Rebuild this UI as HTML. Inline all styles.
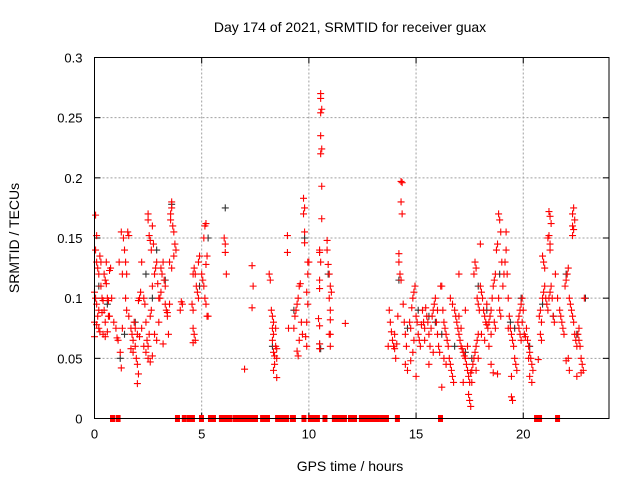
<!DOCTYPE html>
<html><head><meta charset="utf-8"><style>
body{margin:0;background:#fff;}
svg{display:block;font-family:"Liberation Sans",sans-serif;}
</style></head><body>
<svg id="chart" width="640" height="480" viewBox="0 0 640 480">
<rect width="640" height="480" fill="#fff"/>
<text x="350" y="32" font-size="14" text-anchor="middle" fill="#000">Day 174 of 2021, SRMTID for receiver guax</text>
<text x="0" y="0" font-size="14" text-anchor="middle" transform="translate(19,238) rotate(-90)">SRMTID / TECUs</text>
<text x="350" y="471" font-size="14" text-anchor="middle">GPS time / hours</text>
<g id="grid"></g>
<g id="ticks"></g>
<g id="blackpts"></g>
<g id="redpts"></g>
<rect x="94.5" y="57.5" width="514.5" height="361" fill="none" stroke="#000" stroke-width="1"/>
</svg>
<script>
const xTicks=[0,5,10,15,20];
const yTicks=[0,0.05,0.1,0.15,0.2,0.25,0.3];
const yTickLabels=["0","0.05","0.1","0.15","0.2","0.25","0.3"];
const redHours=[0.05,0.1,0.05,0.1,0.15,0.0,0.05,0.1,0.2,0.0,0.1,0.2,0.3,0.35,0.4,0.45,0.5,0.55,0.6,0.65,0.7,0.75,0.3,0.25,0.2,0.4,0.5,0.6,0.15,0.35,0.45,0.55,0.7,0.8,0.0,0.25,0.5,0.65,
0.9,1.0,1.05,1.1,1.2,1.25,1.3,1.35,1.4,1.45,1.5,1.55,1.6,1.5,1.45,1.6,1.7,1.75,1.8,1.85,1.9,1.95,2.0,2.05,2.0,1.7,1.8,1.9,2.0,2.1,2.2,1.25,1.15,1.3,
2.05,2.1,2.15,2.2,2.3,2.35,2.4,2.45,2.5,2.55,2.6,2.65,2.7,2.5,2.5,2.55,2.6,2.65,2.7,2.75,2.8,2.85,2.9,2.95,2.5,2.6,2.7,2.4,2.3,2.8,2.9,3.0,
3.05,3.1,3.1,3.15,3.2,3.25,3.3,3.35,3.4,3.45,3.5,3.55,3.55,3.6,3.6,3.65,3.7,3.75,3.7,3.6,3.5,3.8,3.2,3.0,3.3,3.4,
4.05,4.1,4.0,4.6,4.65,4.7,4.75,4.8,4.85,4.9,4.85,4.6,4.65,4.7,4.6,4.55,4.6,
5.0,5.05,5.1,5.15,5.2,5.25,5.3,5.15,5.2,5.1,5.2,5.25,
6.05,6.1,6.1,6.15,7.0,7.35,7.4,7.35,
8.15,8.2,8.25,8.3,8.35,8.3,8.35,8.3,8.35,8.4,8.45,8.5,8.4,8.35,8.5,8.45,8.5,
9.05,9.0,9.0,9.3,9.35,9.4,9.45,9.5,9.55,9.6,9.65,9.7,9.55,9.45,9.5,9.75,9.8,9.75,9.8,9.8,9.95,10.0,9.95,9.9,9.95,9.9,9.85,9.9,
10.55,10.55,10.6,10.55,10.55,10.6,10.55,10.6,10.6,10.5,10.5,10.55,10.5,10.5,10.45,10.5,10.5,10.5,10.85,10.85,10.9,10.95,11.0,10.95,11.0,11.0,10.95,11.0,11.05,11.0,
11.7,
13.7,13.75,13.8,13.85,13.9,13.95,14.0,14.05,14.0,14.1,14.15,14.2,14.2,14.25,14.3,14.3,14.35,14.3,14.35,14.4,14.45,14.5,14.55,14.5,14.6,14.7,14.75,14.8,14.85,14.9,14.95,15.0,15.05,15.1,15.15,15.2,15.25,15.3,15.35,15.4,14.9,14.85,14.75,15.0,
15.5,15.55,15.6,15.65,15.7,15.75,15.8,15.85,15.9,15.95,16.0,16.05,16.1,16.15,16.2,16.25,16.3,16.35,16.4,16.45,16.5,16.55,16.6,16.65,16.7,16.75,16.6,16.7,16.8,16.85,16.9,16.95,15.6,15.8,16.0,15.4,15.45,16.3,16.4,16.2,
17.0,17.05,17.1,17.15,17.2,17.25,17.3,17.35,17.4,17.45,17.5,17.45,17.5,17.55,17.6,17.65,17.7,17.75,17.8,17.85,17.9,17.7,17.75,17.8,17.85,17.9,17.95,17.2,17.3,17.0,17.1,17.55,17.6,17.4,17.8,17.9,17.0,
18.0,18.05,18.1,18.15,18.2,18.25,18.3,18.35,18.4,18.45,18.5,18.55,18.6,18.65,18.7,18.75,18.8,18.85,18.9,18.95,19.0,18.85,18.9,18.95,18.0,18.05,18.2,18.4,18.5,18.6,18.8,18.3,18.7,18.5,18.65,
19.05,19.1,19.15,19.2,19.2,19.25,19.3,19.35,19.4,19.45,19.5,19.55,19.6,19.65,19.7,19.45,19.45,19.5,19.75,19.8,19.85,19.9,19.95,19.8,19.85,19.9,19.95,20.0,20.05,20.1,20.15,20.2,20.25,20.3,20.35,20.4,20.45,20.3,20.4,20.25,19.3,
20.75,20.8,20.85,20.9,20.95,21.0,21.05,21.1,21.15,21.2,21.25,21.3,21.15,21.2,21.25,21.25,20.9,20.95,21.0,20.8,20.85,20.7,21.4,21.45,21.5,21.35,
21.6,21.7,21.75,21.8,21.85,21.9,21.95,22.0,22.05,22.1,22.15,22.2,22.25,22.3,22.35,22.4,22.45,22.5,22.55,22.6,22.65,22.7,22.75,22.8,22.85,22.1,22.0,22.15,22.3,22.35,22.3,22.35,22.4,22.3,22.7,22.6,22.5,
21.2,21.25,21.3];
const redTecu=[0.169,0.152,0.14,0.13,0.125,0.105,0.1,0.095,0.09,0.08,0.078,0.075,0.11,0.1,0.098,0.09,0.115,0.112,0.1,0.098,0.085,0.125,0.13,0.135,0.12,0.07,0.08,0.072,0.085,0.088,0.12,0.13,0.123,0.1,0.068,0.072,0.068,0.085,
0.08,0.075,0.067,0.065,0.055,0.042,0.075,0.15,0.14,0.13,0.12,0.155,0.152,0.09,0.1,0.085,0.075,0.07,0.065,0.08,0.06,0.05,0.045,0.037,0.029,0.058,0.055,0.075,0.07,0.068,0.075,0.155,0.13,0.12,
0.098,0.1,0.105,0.13,0.1,0.095,0.08,0.065,0.06,0.07,0.085,0.09,0.11,0.17,0.165,0.152,0.148,0.14,0.16,0.145,0.12,0.125,0.13,0.112,0.05,0.047,0.052,0.055,0.06,0.07,0.065,0.1,
0.1,0.105,0.125,0.12,0.13,0.115,0.11,0.09,0.085,0.07,0.095,0.165,0.17,0.18,0.175,0.16,0.155,0.145,0.135,0.125,0.13,0.14,0.062,0.08,0.095,0.088,
0.097,0.095,0.09,0.12,0.125,0.12,0.11,0.105,0.1,0.135,0.13,0.075,0.07,0.065,0.063,0.095,0.09,
0.12,0.115,0.11,0.1,0.095,0.085,0.085,0.16,0.162,0.15,0.128,0.135,
0.15,0.145,0.138,0.12,0.041,0.127,0.11,0.092,
0.12,0.115,0.09,0.085,0.08,0.075,0.07,0.065,0.055,0.052,0.06,0.05,0.045,0.04,0.034,0.075,0.058,
0.075,0.152,0.138,0.075,0.085,0.09,0.095,0.1,0.11,0.112,0.08,0.07,0.065,0.056,0.052,0.17,0.175,0.183,0.155,0.146,0.13,0.13,0.12,0.105,0.095,0.08,0.068,0.06,
0.27,0.266,0.257,0.254,0.235,0.224,0.22,0.193,0.166,0.138,0.14,0.13,0.115,0.108,0.083,0.077,0.062,0.058,0.148,0.14,0.128,0.12,0.11,0.1,0.09,0.082,0.07,0.06,0.105,0.07,
0.079,
0.06,0.09,0.08,0.072,0.065,0.06,0.058,0.05,0.07,0.062,0.085,0.137,0.13,0.12,0.115,0.197,0.196,0.18,0.17,0.095,0.08,0.07,0.06,0.045,0.04,0.08,0.075,0.092,0.1,0.105,0.11,0.085,0.08,0.07,0.065,0.06,0.078,0.09,0.08,0.075,0.065,0.055,0.048,0.035,
0.085,0.08,0.07,0.06,0.075,0.085,0.09,0.095,0.1,0.08,0.07,0.06,0.055,0.11,0.11,0.09,0.08,0.075,0.07,0.065,0.06,0.05,0.045,0.04,0.035,0.03,0.1,0.095,0.09,0.085,0.08,0.075,0.045,0.055,0.09,0.065,0.092,0.05,0.045,0.026,
0.07,0.065,0.06,0.058,0.055,0.052,0.05,0.045,0.04,0.035,0.03,0.02,0.015,0.01,0.04,0.045,0.05,0.055,0.06,0.065,0.07,0.12,0.13,0.125,0.1,0.095,0.09,0.03,0.09,0.085,0.075,0.038,0.03,0.06,0.04,0.05,0.12,
0.11,0.105,0.1,0.09,0.085,0.08,0.078,0.075,0.08,0.085,0.09,0.1,0.11,0.115,0.12,0.14,0.145,0.17,0.165,0.155,0.13,0.1,0.09,0.085,0.145,0.07,0.065,0.06,0.045,0.038,0.037,0.095,0.075,0.07,0.08,
0.11,0.12,0.13,0.14,0.155,0.12,0.1,0.085,0.075,0.07,0.065,0.06,0.05,0.045,0.04,0.035,0.018,0.015,0.08,0.085,0.09,0.095,0.1,0.075,0.07,0.065,0.08,0.09,0.07,0.068,0.075,0.065,0.06,0.055,0.05,0.045,0.04,0.035,0.03,0.05,0.075,
0.085,0.09,0.08,0.1,0.105,0.11,0.1,0.095,0.09,0.1,0.105,0.11,0.15,0.152,0.145,0.14,0.135,0.13,0.125,0.07,0.065,0.049,0.085,0.08,0.12,0.1,
0.1,0.09,0.085,0.08,0.075,0.07,0.11,0.115,0.12,0.125,0.1,0.095,0.09,0.085,0.08,0.07,0.065,0.06,0.07,0.075,0.06,0.05,0.045,0.04,0.1,0.05,0.048,0.04,0.152,0.157,0.17,0.175,0.165,0.16,0.038,0.065,0.035,
0.172,0.168,0.162];
const blackHours=[0.2,0.6,1.2,1.9,2.4,2.9,3.3,3.6,4.9,5.3,6.1,8.3,9.3,9.8,10.5,10.55,10.9,14.2,14.6,15.1,15.6,16.2,16.8,17.3,17.9,18.3,18.9,19.4,19.9,20.3,20.9,21.4,22.0,22.5,22.9,1.4,2.7,15.9,17.6,19.6];
const blackTecu=[0.11,0.095,0.05,0.08,0.12,0.14,0.115,0.178,0.11,0.15,0.175,0.06,0.09,0.15,0.062,0.058,0.12,0.115,0.075,0.09,0.085,0.07,0.06,0.055,0.11,0.09,0.12,0.08,0.1,0.06,0.095,0.085,0.12,0.07,0.1,0.07,0.1,0.08,0.05,0.075];
const zeroHours=[0.84,1.10,3.87,4.19,4.43,4.57,4.99,5.41,5.55,5.92,6.06,6.20,6.30,6.55,6.69,6.83,6.97,7.11,7.25,7.39,7.51,7.84,8.07,8.54,8.70,8.84,8.96,9.23,9.28,9.77,10.07,10.24,10.40,10.75,11.19,11.36,11.50,11.66,11.94,12.13,12.45,12.61,12.78,12.97,13.20,13.43,13.62,14.13,16.14,20.62,20.76,21.6];

const X0=94.5,X1=609,Y0=418.5,Y1=57.5;
function xs(t){return X0+(t/24)*(X1-X0);}
function ys(v){return Y0-(v/0.3)*(Y0-Y1);}
const NS="http://www.w3.org/2000/svg";
function mk(tag,attrs,parent){const e=document.createElementNS(NS,tag);for(const k in attrs)e.setAttribute(k,attrs[k]);parent.appendChild(e);return e;}
const grid=document.getElementById('grid'),ticks=document.getElementById('ticks');
xTicks.forEach(t=>{
  const x=xs(t);
  if(t>0){const g=mk('line',{x1:x,y1:Y0,x2:x,y2:Y1,stroke:'#a0a0a0','stroke-dasharray':'2,2'},grid);
  
  }
  mk('line',{x1:x,y1:Y0,x2:x,y2:Y0-6,stroke:'#000'},ticks);
  mk('line',{x1:x,y1:Y1,x2:x,y2:Y1+6,stroke:'#000'},ticks);
  const l=mk('text',{x:x,y:Y0+20,'font-size':13,'text-anchor':'middle'},ticks);
  l.textContent=String(t);
  
  
});
yTicks.forEach((v,i)=>{
  const y=ys(v);
  if(i>0&&i<yTicks.length-1){const g=mk('line',{x1:X0,y1:y,x2:X1,y2:y,stroke:'#a0a0a0','stroke-dasharray':'2,2'},grid);
  
  }
  mk('line',{x1:X0,y1:y,x2:X0+6,y2:y,stroke:'#000'},ticks);
  mk('line',{x1:X1,y1:y,x2:X1-6,y2:y,stroke:'#000'},ticks);
  const l=mk('text',{x:X0-12,y:y+5,'font-size':13,'text-anchor':'end'},ticks);
  l.textContent=yTickLabels[i];
  
  
});
function plus(g,t,v,color,name){
  const x=xs(t),y=ys(v);
  const p=mk('path',{d:`M${x-3.5},${y}H${x+3.5}M${x},${y-3.5}V${y+3.5}`,stroke:color,'stroke-width':1.1,fill:'none'},g);
  
  
}
const bg=document.getElementById('blackpts'),rg=document.getElementById('redpts');
blackHours.forEach((t,i)=>plus(bg,t,blackTecu[i],'#333','black-point'));
redHours.forEach((t,i)=>plus(rg,t,redTecu[i],'#ff0000','red-point'));
zeroHours.forEach(t=>{
  const r=mk('rect',{x:xs(t)-2.5,y:ys(0)-3.5,width:5,height:7,fill:'#ff0000'},rg);
  
  
});
</script>
</body></html>
